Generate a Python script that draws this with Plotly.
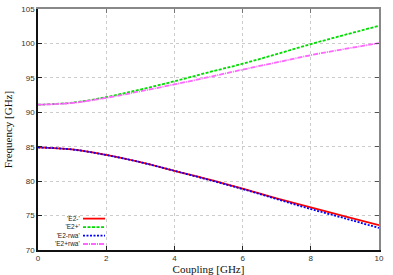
import plotly.graph_objects as go

coupling = [0, 1, 2, 3, 4, 5, 6, 7, 8, 9, 10]
e2_minus = [84.9, 84.6, 83.8, 82.75, 81.5, 80.25, 78.9, 77.5, 76.2, 74.9, 73.6]
e2_plus = [91.1, 91.4, 92.2, 93.3, 94.5, 95.8, 97.05, 98.45, 99.9, 101.25, 102.55]
e2_minus_rwa = [84.9, 84.6, 83.8, 82.75, 81.5, 80.2, 78.85, 77.4, 75.95, 74.6, 73.2]
e2_plus_rwa = [91.1, 91.35, 92.1, 93.05, 94.05, 95.1, 96.2, 97.25, 98.3, 99.2, 100.05]

series_names = ["'E2-'", "'E2+'", "'E2-rwa'", "'E2+rwa'"]
series_vals = [e2_minus, e2_plus, e2_minus_rwa, e2_plus_rwa]
colors = ["#ff0000", "#00dd00", "#0000ff", "#ff66ff"]
dashes = ["solid", "3px,1.5px", "2px,1.5px", "5px,1px,1px,1px"]

x_ticks = [0, 2, 4, 6, 8, 10]
y_ticks = [70, 75, 80, 85, 90, 95, 100, 105]

L, R, T, B = 38, 379, 9, 250

fig = go.Figure()
for name, vals, c, d in zip(series_names, series_vals, colors, dashes):
    fig.add_trace(go.Scatter(x=coupling, y=vals, mode="lines", name=name,
                             line=dict(color=c, width=1.8, dash=d, shape="spline"),
                             showlegend=False, hoverinfo="skip"))

# empty trace to activate mirror axes
fig.add_trace(go.Scatter(x=[], y=[], xaxis="x2", yaxis="y2", showlegend=False))

tickfont = dict(family="Liberation Sans, Arial", size=8, color="#333")
fig.update_layout(
    width=393, height=275,
    margin=dict(l=L, r=393 - R, t=T, b=275 - B),
    paper_bgcolor="white", plot_bgcolor="white",
    xaxis=dict(range=[0, 10], tickvals=x_ticks, ticks="inside", ticklen=4,
               tickcolor="#222", showline=True, linecolor="#111", linewidth=1.5,
               showgrid=True, gridcolor="#cccccc", griddash="dot", gridwidth=1,
               zeroline=False, tickfont=tickfont, automargin=False,
               title=dict(text="Coupling [GHz]", standoff=2,
                          font=dict(family="Liberation Serif, Times New Roman", size=11, color="#111"))),
    yaxis=dict(range=[70, 105], tickvals=y_ticks, ticks="inside", ticklen=4,
               tickcolor="#222", showline=True, linecolor="#111", linewidth=1.5,
               showgrid=True, gridcolor="#cccccc", griddash="dot", gridwidth=1,
               zeroline=False, tickfont=tickfont, automargin=False,
               title=dict(text="Frequency [GHz]", standoff=6,
                          font=dict(family="Liberation Serif, Times New Roman", size=11, color="#111"))),
    xaxis2=dict(range=[0, 10], overlaying="x", side="top", anchor="y", tickvals=x_ticks,
                ticks="inside", ticklen=4, tickcolor="#777", showticklabels=False,
                showline=True, linecolor="#888", linewidth=2, showgrid=False, zeroline=False,
                automargin=False),
    yaxis2=dict(range=[70, 105], overlaying="y", side="right", anchor="x", tickvals=y_ticks,
                ticks="inside", ticklen=4, tickcolor="#555", showticklabels=False,
                showline=True, linecolor="#888", linewidth=1.5, showgrid=False, zeroline=False,
                automargin=False),
)

# gnuplot-style legend: text right-aligned, sample to the right
def px(xp):
    return (xp - L) / (R - L)

def py(yp):
    return 1 - (yp - T) / (B - T)

fs = 6.5
step = fs * 1.3
center = 231.3
leg_y = [center + (i - 1.5) * step for i in range(4)]
fig.add_annotation(xref="paper", yref="paper", x=px(81), y=py(center),
                   text="<br>".join(series_names), showarrow=False, xanchor="right",
                   yanchor="middle", align="right", borderpad=0,
                   font=dict(family="Liberation Sans, Arial", size=fs, color="#222"))
for c, d, yy in zip(colors, dashes, leg_y):
    fig.add_shape(type="line", xref="paper", yref="paper",
                  x0=px(83), x1=px(105), y0=py(yy), y1=py(yy),
                  line=dict(color=c, width=1.8, dash=d))

fig.write_html("out.html", config={"displayModeBar": False},
               post_script="document.body.style.margin='0';document.body.style.overflow='hidden';")
